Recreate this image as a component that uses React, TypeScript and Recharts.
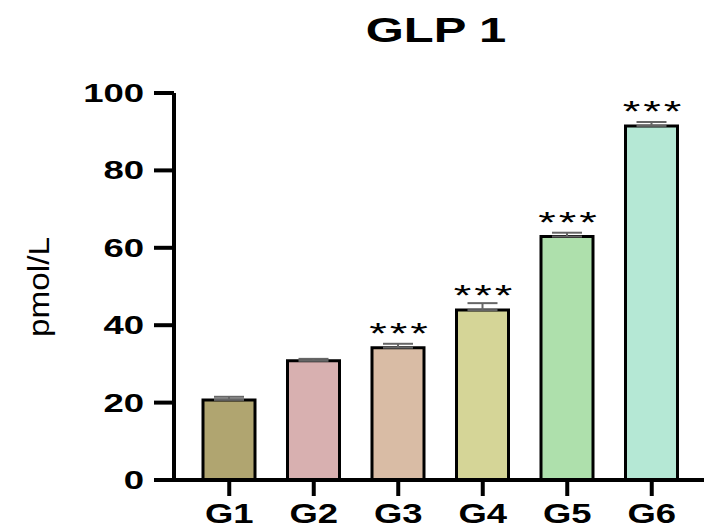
import React from 'react';
import { BarChart, Bar, XAxis, YAxis, ErrorBar, LabelList, Cell } from 'recharts';

const groups = ['G1', 'G2', 'G3', 'G4', 'G5', 'G6'];
const means = [20.7, 30.8, 34.2, 43.9, 62.9, 91.5];
const sems = [0.8, 0.5, 1.0, 1.8, 1.0, 1.0];
const marks = ['', '', '***', '***', '***', '***'];
const fills = ['#b0a570', '#d8b0b0', '#d9bca5', '#d5d597', '#aee0ac', '#b5e8d5'];
const yTicks = [0, 20, 40, 60, 80, 100];

const data = groups.map((g, i) => ({
  group: g,
  value: means[i],
  err: [0, sems[i]],
  mark: marks[i],
}));

const font = '"Liberation Sans", Arial, sans-serif';

function YTick({ x, y, payload }: any) {
  return (
    <text
      transform={`translate(${x},${y}) scale(1.46,1)`}
      textAnchor="end"
      dy="0.36em"
      fontSize={25}
      fontWeight="bold"
      fontFamily={font}
      fill="#000"
    >
      {payload.value}
    </text>
  );
}

function XTick({ x, y, payload }: any) {
  return (
    <text
      transform={`translate(${x},${y}) scale(1.35,1)`}
      textAnchor="middle"
      dy="0.72em"
      fontSize={27}
      fontWeight="bold"
      fontFamily={font}
      fill="#000"
    >
      {payload.value}
    </text>
  );
}

function Stars({ x, y, width, value }: any) {
  if (!value) return null;
  return (
    <text
      transform={`translate(${x + width / 2 + 2},${y - 5}) scale(1.5,1)`}
      textAnchor="middle"
      fontSize={30}
      letterSpacing={2}
      fontFamily={font}
      fill="#000"
    >
      {value}
    </text>
  );
}

export default function App() {
  return (
    <div style={{ position: 'absolute', left: 0, top: 0, width: 704, height: 528, background: '#fff' }}>
      <BarChart
        width={704}
        height={528}
        data={data}
        margin={{ top: 93, right: 0, left: 0, bottom: 0 }}
      >
        <XAxis
          dataKey="group"
          height={48}
          padding={{ left: 13, right: 10 }}
          axisLine={{ stroke: '#000', strokeWidth: 4 }}
          tickLine={{ stroke: '#000', strokeWidth: 4 }}
          tickSize={16}
          tickMargin={8}
          tick={<XTick />}
        />
        <YAxis
          width={174}
          domain={[0, 100]}
          ticks={yTicks}
          axisLine={{ stroke: '#000', strokeWidth: 4 }}
          tickLine={{ stroke: '#000', strokeWidth: 4 }}
          tickSize={20}
          tickMargin={10}
          tick={<YTick />}
        />
        <Bar dataKey="value" barSize={52} stroke="#000" strokeWidth={3} isAnimationActive={false}>
          {data.map((d, i) => (
            <Cell key={d.group} fill={fills[i]} />
          ))}
          <ErrorBar dataKey="err" direction="y" width={15} stroke="#666" strokeWidth={2} />
          <LabelList dataKey="mark" content={<Stars />} />
        </Bar>
      </BarChart>
      <svg
        width={704}
        height={528}
        style={{ position: 'absolute', left: 0, top: 0, pointerEvents: 'none' }}
      >
        <text
          transform="translate(436,42) scale(1.4,1)"
          textAnchor="middle"
          fontSize={35}
          fontWeight="bold"
          fontFamily={font}
          fill="#000"
        >
          GLP 1
        </text>
        <text
          transform="translate(49,287) rotate(-90) scale(1.11,1)"
          textAnchor="middle"
          fontSize={30}
          fontFamily={font}
          fill="#000"
        >
          pmol/L
        </text>
      </svg>
    </div>
  );
}
